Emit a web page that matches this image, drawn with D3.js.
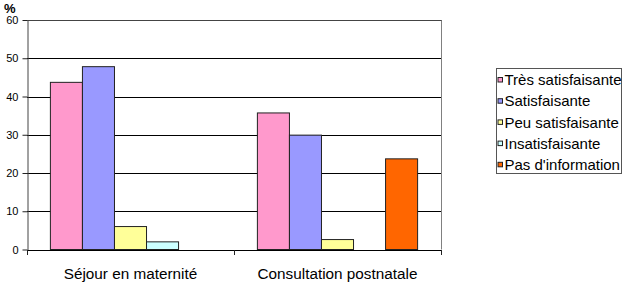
<!DOCTYPE html>
<html>
<head>
<meta charset="utf-8">
<script src="https://cdn.jsdelivr.net/npm/d3@7"></script>
<style>
  body { margin: 0; background: #fff; }
  text { font-family: "Liberation Sans", Arial, sans-serif; fill: #000; }
</style>
</head>
<body>
<svg id="chart"></svg>
<script>
// data
const categories = ["Séjour en maternité", "Consultation postnatale"];
const seriesNames = ["Très satisfaisante", "Satisfaisante", "Peu satisfaisante", "Insatisfaisante", "Pas d'information"];
const seriesColors = ["#FF99CC", "#9999FF", "#FFFF99", "#CCFFFF", "#FF6600"];
const tresSatisfaisante = [43.7, 35.7];
const satisfaisante = [47.8, 29.9];
const peuSatisfaisante = [6.0, 2.6];
const insatisfaisante = [2.0, 0];
const pasInformation = [0, 23.7];
const yTicks = [0, 10, 20, 30, 40, 50, 60];

const seriesValues = [tresSatisfaisante, satisfaisante, peuSatisfaisante, insatisfaisante, pasInformation];

const W = 630, H = 288;
const margin = { top: 20, left: 27, right: 189, bottom: 38.5 };
const width = W - margin.left - margin.right;
const height = H - margin.top - margin.bottom;

const svg = d3.select("#chart").attr("width", W).attr("height", H);
const chart = svg.append("g").attr("transform", `translate(${margin.left},${margin.top})`);

const x0 = d3.scaleBand().domain(categories).range([0, width]).padding(0);
const x1 = d3.scaleBand().domain(seriesNames).range([0, x0.bandwidth()])
  .paddingInner(0).paddingOuter(0.73);
const y = d3.scaleLinear().domain([0, 60]).range([height, 0]);

// gridlines
chart.append("g").selectAll("line")
  .data(yTicks.filter(d => d > 0))
  .join("line")
  .attr("x1", 0).attr("x2", width)
  .attr("y1", d => Math.round(y(d)) + 0.5).attr("y2", d => Math.round(y(d)) + 0.5)
  .attr("stroke", "#000").attr("stroke-width", 1);

// right border of plot area
chart.append("line")
  .attr("x1", width + 0.5).attr("x2", width + 0.5)
  .attr("y1", 0).attr("y2", height)
  .attr("stroke", "#808080");

// bars
const rows = [];
categories.forEach((c, ci) => {
  seriesNames.forEach((s, si) => {
    rows.push({ cat: c, series: s, value: seriesValues[si][ci], color: seriesColors[si] });
  });
});
chart.append("g").selectAll("rect")
  .data(rows.filter(d => d.value > 0))
  .join("rect")
  .attr("x", d => x0(d.cat) + x1(d.series))
  .attr("y", d => y(d.value))
  .attr("width", x1.bandwidth())
  .attr("height", d => height - y(d.value))
  .attr("fill", d => d.color)
  .attr("stroke", "#222")
  .attr("stroke-width", 1);

// y axis
const yAxis = d3.axisLeft(y).tickValues(yTicks).tickSize(5).tickPadding(4).tickSizeOuter(0);
chart.append("g")
  .attr("transform", "translate(0.5,0)")
  .call(yAxis)
  .call(g => g.select(".domain").attr("stroke", "#444"))
  .call(g => g.selectAll(".tick line").attr("stroke", "#222"))
  .call(g => g.selectAll(".tick text").attr("font-size", 11).attr("fill", "#222")
    .style("font-family", "'Liberation Sans', Arial, sans-serif"));

// x axis
const xAxis = d3.axisBottom(x0).tickSize(0).tickPadding(18.5).tickSizeOuter(0);
const xg = chart.append("g")
  .attr("transform", `translate(0,${height + 0.5})`)
  .call(xAxis)
  .call(g => g.select(".domain").attr("stroke", "#000"))
  .call(g => g.selectAll(".tick text").attr("font-size", 15.3).attr("fill", "#000")
    .style("font-family", "'Liberation Sans', Arial, sans-serif"));

// category separator ticks
xg.selectAll(".sep")
  .data([0, ...categories.map(c => x0(c) + x0.bandwidth())])
  .join("line")
  .attr("class", "sep")
  .attr("x1", d => Math.round(d) + 0.5).attr("x2", d => Math.round(d) + 0.5)
  .attr("y1", 0).attr("y2", 5)
  .attr("stroke", "#222");

// top border
chart.append("line")
  .attr("x1", 0).attr("x2", width + 0.5)
  .attr("y1", 0.5).attr("y2", 0.5)
  .attr("stroke", "#444");

// unit label
svg.append("text")
  .attr("x", 4).attr("y", 12.5)
  .attr("font-size", 13).attr("font-weight", "bold")
  .text("%");

// legend
const legend = svg.append("g").attr("transform", "translate(496,68)");
legend.append("rect")
  .attr("x", 0.5).attr("y", 0.5)
  .attr("width", 125).attr("height", 105)
  .attr("fill", "#fff").attr("stroke", "#555");
const items = legend.selectAll(".item")
  .data(seriesNames)
  .join("g")
  .attr("class", "item")
  .attr("transform", (d, i) => `translate(0,${12 + i * 21.2})`);
items.append("rect")
  .attr("x", 2).attr("y", -2.5)
  .attr("width", 4.5).attr("height", 4.5)
  .attr("fill", (d, i) => seriesColors[i])
  .attr("stroke", "#222");
items.append("text")
  .attr("x", 8.5).attr("y", 5.2)
  .attr("font-size", 15)
  .text(d => d);
</script>
</body>
</html>
